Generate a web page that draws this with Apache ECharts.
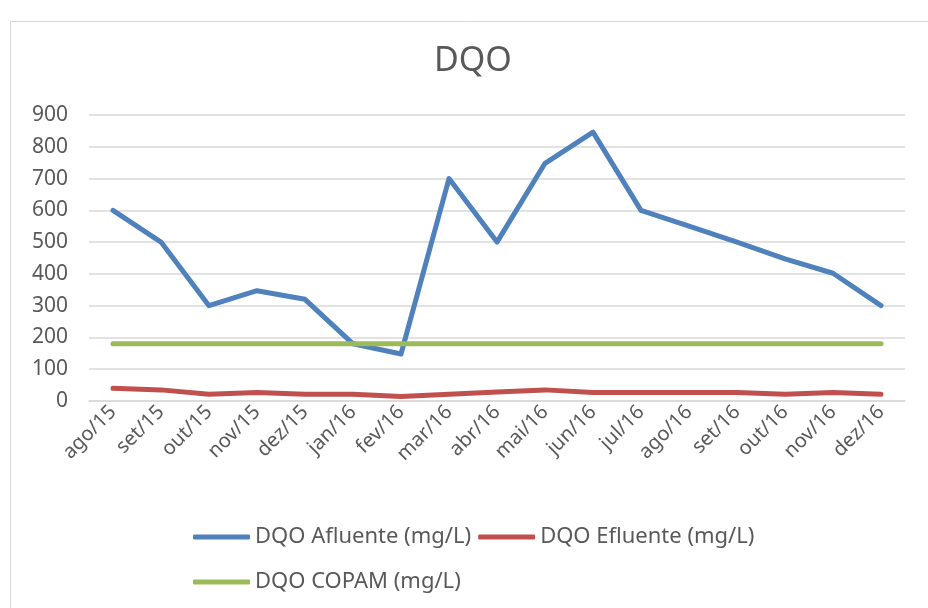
<!DOCTYPE html>
<html><head><meta charset="utf-8">
<script src="https://cdn.jsdelivr.net/npm/echarts@6/dist/echarts.min.js"></script>
<style>html,body{margin:0;padding:0;background:#fff}#c{width:928px;height:608px}</style>
</head><body><div id="c"></div>
<script>
const categories = ['ago/15','set/15','out/15','nov/15','dez/15','jan/16','fev/16','mar/16','abr/16','mai/16','jun/16','jul/16','ago/16','set/16','out/16','nov/16','dez/16'];
const afluente = [600,500,300,347,320,180,148,700,500,748,846,600,550,500,447,402,300];
const efluente = [40,35,21,27,21,21,14,21,28,35,27,27,27,27,21,27,21];
const copam = [180,180,180,180,180,180,180,180,180,180,180,180,180,180,180,180,180];
const yTicks = [0,100,200,300,400,500,600,700,800,900];
const font = 'Noto Sans';
const txt = '#595959';
const chart = echarts.init(document.getElementById('c'));
chart.setOption({
  animation:false,
  backgroundColor:'#fff',
  graphic:[{type:'rect',shape:{x:10.5,y:21.5,width:930,height:600},style:{fill:'none',stroke:'#D9D9D9',lineWidth:1}}],
  title:{text:'DQO',left:429,top:39,textStyle:{fontFamily:font,fontSize:34,fontWeight:'normal',color:txt}},
  grid:{left:89,right:23,top:115,bottom:207,containLabel:false},
  legend:[
    {data:['DQO Afluente (mg/L)','DQO Efluente (mg/L)'],left:188,top:521,itemWidth:57,itemHeight:5,itemGap:7,icon:'roundRect',textStyle:{fontFamily:font,fontSize:22,color:txt}},
    {data:['DQO COPAM (mg/L)'],left:188,top:566,itemWidth:57,itemHeight:5,icon:'roundRect',textStyle:{fontFamily:font,fontSize:22,color:txt}}
  ],
  xAxis:{type:'category',data:categories,boundaryGap:true,
    axisLine:{show:true,lineStyle:{color:'#D9D9D9',width:1.5}},axisTick:{show:false},
    axisLabel:{rotate:45,interval:0,fontFamily:font,fontSize:20,color:txt,margin:8}},
  yAxis:{type:'value',min:0,max:900,interval:100,
    axisLine:{show:false},axisTick:{show:false},
    splitLine:{lineStyle:{color:'#D9D9D9',width:1.5}},
    axisLabel:{fontFamily:font,fontSize:21,color:txt,margin:21,formatter:v=>yTicks.includes(v)?String(v):''}},
  series:[
    {name:'DQO Afluente (mg/L)',type:'line',data:afluente,symbol:'none',lineStyle:{width:5,color:'#4F81BD',cap:'round',join:'round'},itemStyle:{color:'#4F81BD'},z:3},
    {name:'DQO Efluente (mg/L)',type:'line',data:efluente,symbol:'none',lineStyle:{width:5,color:'#C0504D',cap:'round',join:'round'},itemStyle:{color:'#C0504D'},z:2},
    {name:'DQO COPAM (mg/L)',type:'line',data:copam,symbol:'none',lineStyle:{width:5,color:'#9BBB59',cap:'round',join:'round'},itemStyle:{color:'#9BBB59'},z:4}
  ]
});
</script></body></html>
